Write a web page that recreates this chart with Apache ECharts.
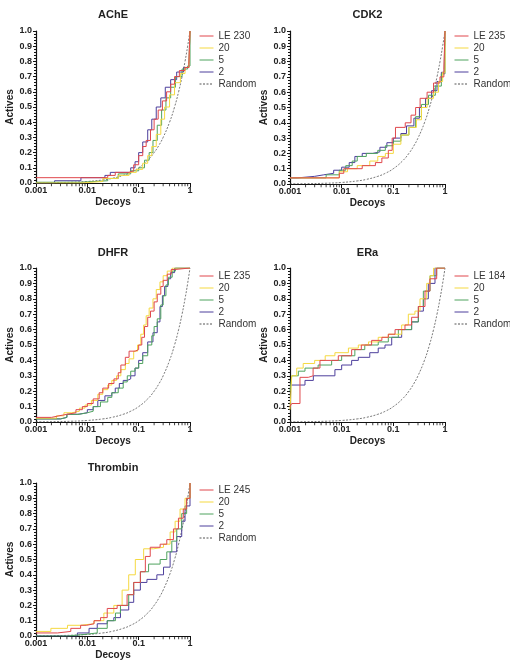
<!DOCTYPE html>
<html>
<head>
<meta charset="utf-8">
<script src="https://cdn.jsdelivr.net/npm/echarts@6/dist/echarts.min.js"></script>
<style>
html,body{margin:0;padding:0;background:#fff;}
#chart{width:510px;height:667px;}
</style>
</head>
<body>
<div id="chart"></div>
<script>
// ---- data ----
const panelTitles = ['AChE', 'CDK2', 'DHFR', 'ERa', 'Thrombin'];
const leNames = ['LE 230', 'LE 235', 'LE 235', 'LE 184', 'LE 245'];
const otherNames = ['20', '5', '2'];
const randomName = 'Random';
const xTickLabels = ['0.001', '0.01', '0.1', '1'];
const xTickValues = [0.001, 0.01, 0.1, 1];
const xMinorTicks = [0.002,0.003,0.004,0.005,0.006,0.007,0.008,0.009,
  0.02,0.03,0.04,0.05,0.06,0.07,0.08,0.09,
  0.2,0.3,0.4,0.5,0.6,0.7,0.8,0.9];

const randomCurve = [[0.001,0.001],[0.002,0.002],[0.005,0.005],[0.01,0.01],[0.02,0.02],[0.03,0.03],[0.05,0.05],[0.07,0.07],[0.1,0.1],[0.15,0.15],[0.2,0.2],[0.25,0.25],[0.3,0.3],[0.4,0.4],[0.5,0.5],[0.6,0.6],[0.7,0.7],[0.8,0.8],[0.9,0.9],[1,1]];

// AChE
const acheLE = [[0.001,0.035],[0.025,0.05],[0.035,0.07],[0.065,0.08],[0.08,0.12],[0.1,0.18],[0.12,0.24],[0.14,0.28],[0.17,0.35],[0.2,0.42],[0.24,0.48],[0.29,0.54],[0.35,0.6],[0.42,0.65],[0.5,0.7],[0.62,0.74],[0.8,0.76],[0.95,0.78],[1,1]];
const ache20 = [[0.001,0.0],[0.0075,0.01],[0.02,0.03],[0.04,0.05],[0.065,0.07],[0.09,0.09],[0.12,0.13],[0.15,0.18],[0.18,0.24],[0.22,0.32],[0.27,0.42],[0.32,0.5],[0.4,0.58],[0.5,0.66],[0.65,0.72],[0.8,0.76],[0.95,0.78],[1,1]];
const ache5 = [[0.001,0.005],[0.0075,0.015],[0.025,0.03],[0.04,0.06],[0.07,0.08],[0.1,0.1],[0.13,0.15],[0.16,0.2],[0.19,0.28],[0.23,0.38],[0.28,0.48],[0.34,0.56],[0.42,0.63],[0.52,0.7],[0.7,0.75],[0.9,0.77],[1,1]];
const ache2 = [[0.001,0.0],[0.0023,0.015],[0.0075,0.035],[0.022,0.05],[0.028,0.07],[0.07,0.1],[0.085,0.14],[0.1,0.2],[0.12,0.27],[0.15,0.35],[0.18,0.42],[0.22,0.5],[0.27,0.56],[0.33,0.63],[0.42,0.68],[0.55,0.73],[0.75,0.76],[0.95,0.78],[1,1]];

// CDK2
const cdk2LE = [[0.001,0.04],[0.009,0.07],[0.011,0.1],[0.025,0.12],[0.045,0.14],[0.06,0.17],[0.08,0.22],[0.095,0.3],[0.11,0.37],[0.17,0.4],[0.22,0.45],[0.27,0.5],[0.33,0.56],[0.45,0.6],[0.6,0.66],[0.8,0.7],[0.95,0.75],[1,1]];
const cdk220 = [[0.001,0.04],[0.009,0.08],[0.013,0.1],[0.02,0.12],[0.035,0.15],[0.05,0.18],[0.07,0.2],[0.1,0.26],[0.14,0.32],[0.2,0.37],[0.28,0.42],[0.35,0.5],[0.45,0.56],[0.6,0.6],[0.75,0.67],[0.9,0.73],[1,1]];
const cdk25 = [[0.001,0.04],[0.005,0.06],[0.009,0.09],[0.012,0.12],[0.016,0.15],[0.02,0.18],[0.03,0.2],[0.05,0.22],[0.07,0.25],[0.1,0.28],[0.14,0.32],[0.2,0.37],[0.27,0.44],[0.35,0.52],[0.48,0.58],[0.65,0.64],[0.85,0.72],[1,1]];
const cdk22 = [[0.001,0.04],[0.0014,0.05],[0.003,0.06],[0.0045,0.07],[0.007,0.09],[0.01,0.11],[0.014,0.14],[0.018,0.18],[0.025,0.2],[0.04,0.21],[0.055,0.24],[0.075,0.27],[0.1,0.3],[0.14,0.33],[0.18,0.38],[0.25,0.43],[0.32,0.5],[0.42,0.56],[0.55,0.61],[0.7,0.67],[0.85,0.73],[0.97,0.8],[1,1]];

// DHFR
const dhfrLE = [[0.001,0.03],[0.002,0.04],[0.0028,0.05],[0.004,0.06],[0.006,0.08],[0.008,0.1],[0.01,0.12],[0.013,0.15],[0.017,0.19],[0.02,0.22],[0.026,0.25],[0.033,0.28],[0.04,0.32],[0.045,0.37],[0.055,0.42],[0.065,0.46],[0.085,0.47],[0.1,0.5],[0.115,0.55],[0.13,0.62],[0.15,0.68],[0.17,0.72],[0.2,0.78],[0.23,0.83],[0.27,0.88],[0.3,0.92],[0.36,0.96],[0.43,0.99],[0.5,1.0],[1,1.0]];
const dhfr20 = [[0.001,0.025],[0.0025,0.04],[0.0035,0.06],[0.005,0.07],[0.007,0.09],[0.009,0.11],[0.012,0.14],[0.016,0.18],[0.02,0.21],[0.025,0.24],[0.03,0.27],[0.037,0.3],[0.045,0.34],[0.055,0.38],[0.065,0.41],[0.08,0.46],[0.095,0.5],[0.11,0.57],[0.125,0.63],[0.14,0.69],[0.16,0.74],[0.19,0.8],[0.22,0.86],[0.26,0.91],[0.3,0.95],[0.36,0.98],[0.45,1.0],[1,1.0]];
const dhfr5 = [[0.001,0.02],[0.003,0.03],[0.004,0.05],[0.007,0.06],[0.01,0.07],[0.013,0.1],[0.018,0.13],[0.025,0.16],[0.03,0.19],[0.04,0.22],[0.05,0.26],[0.06,0.3],[0.07,0.33],[0.085,0.35],[0.1,0.38],[0.12,0.43],[0.15,0.5],[0.18,0.56],[0.2,0.62],[0.23,0.67],[0.27,0.76],[0.3,0.82],[0.34,0.89],[0.38,0.94],[0.45,0.98],[0.52,1.0],[1,1.0]];
const dhfr2 = [[0.001,0.02],[0.003,0.03],[0.004,0.05],[0.0065,0.06],[0.01,0.08],[0.013,0.1],[0.016,0.14],[0.022,0.17],[0.03,0.19],[0.035,0.22],[0.042,0.25],[0.05,0.27],[0.06,0.28],[0.07,0.3],[0.085,0.35],[0.1,0.4],[0.12,0.45],[0.15,0.52],[0.19,0.58],[0.23,0.65],[0.26,0.75],[0.29,0.82],[0.32,0.88],[0.37,0.93],[0.42,0.97],[0.5,1.0],[1,1.0]];

// ERa
const eraLE = [[0.001,0.1],[0.00108,0.12],[0.00156,0.29],[0.00226,0.3],[0.0028,0.35],[0.0038,0.4],[0.0064,0.4],[0.0086,0.43],[0.0156,0.47],[0.024,0.5],[0.038,0.53],[0.06,0.55],[0.08,0.57],[0.108,0.6],[0.168,0.63],[0.226,0.68],[0.305,0.75],[0.41,0.85],[0.51,0.93],[0.69,1.0],[1,1.0]];
const era20 = [[0.001,0.08],[0.00108,0.3],[0.00135,0.35],[0.0018,0.38],[0.003,0.4],[0.0048,0.43],[0.0074,0.45],[0.0135,0.48],[0.021,0.5],[0.033,0.52],[0.051,0.55],[0.08,0.57],[0.145,0.63],[0.195,0.7],[0.262,0.72],[0.328,0.8],[0.442,0.9],[0.513,0.95],[0.6,1.0],[1,1.0]];
const era5 = [[0.001,0.2],[0.00108,0.3],[0.00145,0.33],[0.00195,0.35],[0.0035,0.37],[0.0064,0.4],[0.01,0.43],[0.018,0.47],[0.028,0.5],[0.051,0.52],[0.08,0.55],[0.125,0.6],[0.226,0.65],[0.305,0.75],[0.381,0.85],[0.513,0.95],[0.69,1.0],[1,1.0]];
const era2 = [[0.001,0.24],[0.00195,0.27],[0.00283,0.3],[0.0074,0.34],[0.01,0.37],[0.0156,0.4],[0.021,0.42],[0.035,0.45],[0.051,0.48],[0.069,0.5],[0.093,0.55],[0.145,0.6],[0.226,0.65],[0.305,0.72],[0.381,0.8],[0.476,0.9],[0.64,1.0],[1,1.0]];

// Thrombin
const thrLE = [[0.001,0.02],[0.00262,0.03],[0.00476,0.05],[0.0074,0.07],[0.0097,0.08],[0.0135,0.1],[0.0181,0.12],[0.0244,0.18],[0.0381,0.2],[0.0595,0.27],[0.08,0.35],[0.108,0.42],[0.135,0.52],[0.168,0.58],[0.262,0.6],[0.353,0.63],[0.476,0.7],[0.595,0.77],[0.74,0.83],[0.86,0.9],[1,1.0]];
const thr20 = [[0.001,0.03],[0.00195,0.05],[0.0041,0.07],[0.0074,0.08],[0.0135,0.1],[0.021,0.15],[0.0328,0.2],[0.0476,0.3],[0.064,0.4],[0.086,0.5],[0.125,0.57],[0.195,0.58],[0.305,0.6],[0.41,0.68],[0.513,0.75],[0.64,0.83],[0.8,0.9],[1,1.0]];
const thr5 = [[0.001,0.0],[0.0041,0.01],[0.0086,0.02],[0.0156,0.05],[0.0244,0.1],[0.0353,0.15],[0.0442,0.2],[0.064,0.27],[0.08,0.35],[0.108,0.42],[0.156,0.47],[0.262,0.5],[0.353,0.55],[0.442,0.62],[0.552,0.7],[0.69,0.8],[0.86,0.9],[1,1.0]];
const thr2 = [[0.001,0.0],[0.0064,0.02],[0.0108,0.05],[0.0156,0.08],[0.0244,0.1],[0.0328,0.12],[0.0442,0.17],[0.064,0.22],[0.08,0.3],[0.108,0.35],[0.145,0.37],[0.226,0.4],[0.305,0.45],[0.41,0.55],[0.552,0.65],[0.69,0.75],[0.8,0.85],[1,1.0]];

const panelData = [
  [acheLE, ache20, ache5, ache2],
  [cdk2LE, cdk220, cdk25, cdk22],
  [dhfrLE, dhfr20, dhfr5, dhfr2],
  [eraLE, era20, era5, era2],
  [thrLE, thr20, thr5, thr2]
];

// ---- layout / style ----
const colors = ['#e0474c', '#f5d940', '#4fa35e', '#4d3f9c'];
const randomColor = '#555555';
const grids = [
  {left: 36, top: 31, width: 154, height: 152},
  {left: 290, top: 31, width: 155, height: 153},
  {left: 36, top: 268, width: 154, height: 154},
  {left: 290, top: 268, width: 155, height: 154},
  {left: 36, top: 483, width: 154, height: 153}
];
const legendPos = [
  {left: 199, top: 30},
  {left: 454, top: 30},
  {left: 199, top: 270},
  {left: 454, top: 270},
  {left: 199, top: 484}
];
const titleY = [15, 15, 253, 253, 468];
const FONT = '"Liberation Sans", Arial, sans-serif';

const chart = echarts.init(document.getElementById('chart'), null, {renderer: 'canvas'});

const option = {
  backgroundColor: '#fff',
  animation: false,
  grid: grids.map(g => Object.assign({containLabel: false}, g)),
  xAxis: grids.map((g, i) => ({
    type: 'log', logBase: 10, min: 0.001, max: 1, gridIndex: i,
    name: 'Decoys', nameLocation: 'middle', nameGap: 14,
    nameTextStyle: {fontFamily: FONT, fontSize: 10, fontWeight: 'bold', color: '#222'},
    axisLine: {show: true, onZero: false, lineStyle: {color: '#111', width: 1.2}},
    axisTick: {show: true, length: 4, lineStyle: {color: '#111', width: 1}},
    axisLabel: {fontFamily: FONT, fontSize: 9, fontWeight: 'bold', color: '#222', margin: 3,
      formatter: v => { const k = xTickValues.findIndex(t => Math.abs(t - v) / t < 1e-6); return k >= 0 ? xTickLabels[k] : ''; }},
    splitLine: {show: false}
  })),
  yAxis: grids.map((g, i) => ({
    type: 'value', min: 0, max: 1, interval: 0.1, gridIndex: i,
    name: 'Actives', nameLocation: 'middle', nameGap: 14, nameRotate: 90,
    nameTextStyle: {fontFamily: FONT, fontSize: 10, fontWeight: 'bold', color: '#222'},
    axisLine: {show: true, lineStyle: {color: '#111', width: 1.2}},
    axisTick: {show: true, length: 3, lineStyle: {color: '#111', width: 1}},
    minorTick: {show: true, splitNumber: 5, length: 2, lineStyle: {color: '#111', width: 1}},
    axisLabel: {fontFamily: FONT, fontSize: 9, fontWeight: 'bold', color: '#222', margin: 4,
      formatter: v => v.toFixed(1)},
    splitLine: {show: false}
  })),
  legend: grids.map((g, i) => ({
    orient: 'vertical', left: legendPos[i].left, top: legendPos[i].top,
    padding: 0, itemGap: 0, itemWidth: 14, itemHeight: 9,
    itemStyle: {opacity: 0, borderWidth: 0},
    lineStyle: {width: 1},
    textStyle: {fontFamily: FONT, fontSize: 10, color: '#333', lineHeight: 12, padding: [0, 0, 0, 0]},
    data: [leNames[i]].concat(otherNames, [randomName])
  })),
  graphic: panelTitles.map((t, i) => ({
    type: 'text',
    x: grids[i].left + grids[i].width / 2, y: titleY[i],
    style: {text: t, fill: '#222', font: 'bold 11px ' + FONT, textAlign: 'center', textVerticalAlign: 'middle'}
  })),
  series: []
};

panelData.forEach((curves, i) => {
  const names = [leNames[i]].concat(otherNames);
  curves.forEach((d, k) => {
    option.series.push({
      type: 'line', name: names[k], xAxisIndex: i, yAxisIndex: i,
      data: d, step: 'end', showSymbol: false, symbol: 'none',
      lineStyle: {color: colors[k], width: 1}, itemStyle: {color: colors[k]},
      z: 5 - k
    });
  });
  option.series.push({
    type: 'line', name: randomName, xAxisIndex: i, yAxisIndex: i,
    data: randomCurve, smooth: true, showSymbol: false, symbol: 'none',
    lineStyle: {color: randomColor, width: 0.8, type: [2, 1.5]}, itemStyle: {color: randomColor},
    z: 1
  });
  option.series.push({
    type: 'scatter', xAxisIndex: i, yAxisIndex: i, silent: true, clip: false,
    data: xMinorTicks.map(v => [v, 0]),
    symbol: 'rect', symbolSize: [1, 2.5], symbolOffset: [0, 2],
    itemStyle: {color: '#111'}, z: 10
  });
});

chart.setOption(option);
</script>
</body>
</html>
